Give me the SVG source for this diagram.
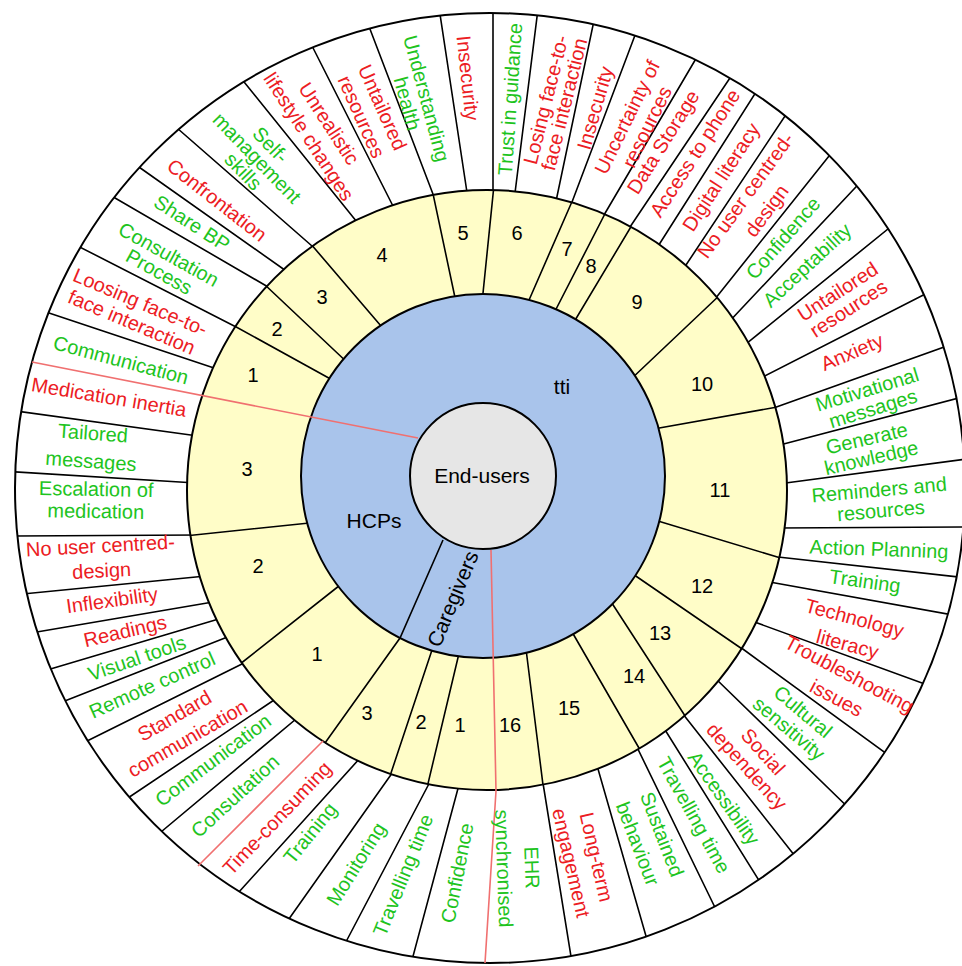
<svg xmlns="http://www.w3.org/2000/svg" width="962" height="966" viewBox="0 0 962 966">
<style>
.lbl{font-family:"Liberation Sans",Arial,sans-serif;font-size:20px;text-anchor:middle}
.r{fill:#ec1c24}.g{fill:#1ec41e}
.num{font-family:"Liberation Sans",Arial,sans-serif;font-size:20px;text-anchor:middle;fill:#000}
.ctr{font-family:"Liberation Sans",Arial,sans-serif;font-size:21px;text-anchor:middle;fill:#000}
.div{stroke:#000;stroke-width:1.6;fill:none}
.redl{stroke:#f07070;stroke-width:1.6;fill:none}
.ring{stroke:#000;stroke-width:2}
</style>
<defs>
<clipPath id="clipOuter"><circle cx="490" cy="488" r="475"/></clipPath>
<clipPath id="clipYellow"><circle cx="487" cy="490" r="300"/></clipPath>
</defs>
<rect width="962" height="966" fill="#fff"/>
<g id="outer-ring">
<circle class="ring" cx="490" cy="488" r="475" fill="#fff"/>
</g>
<g id="connectors">
<path class="div" clip-path="url(#clipOuter)" d="M220,370L37,309M242,330L70,242M275,291L103,191M289,273L129,160M320,253L169,121M361,227L236,72M396,212L307,36M436,202L365,16M468,199L438,1M493,199L493,-1M514,201L539,1M555,206L596,11M569,210L640,22M604,215L704,45M630,227L740,63M655,251L765,78M682,271L795,101M711,304L841,141M727,324L870,172M741,348L904,216M759,379L941,286M768,410L964,340M776,446L974,394M778,484L974,458M778,528L976,527M769,556L977,579M764,581L970,618M749,620L944,691M736,644L902,765M714,677L860,819M679,709L806,870M662,725L770,898M634,741L724,926M596,762L652,957M542,777L574,975M460,781L408,975M432,778L338,957M395,769L279,933M361,757L229,903M302,714L149,842M280,696L116,806M250,660L75,747M230,636L52,706M222,618L37,673M213,602L25,634M206,576L13,595M199,535L3,536M196,483L1,471M198,436L9,410"/>
</g>
<g id="yellow-ring">
<circle class="ring" cx="487" cy="490" r="300" fill="#fffdc8"/>
</g>
<g id="yellow-dividers">
<path class="div" clip-path="url(#clipYellow)" d="M336,382L229,323M351,366L263,283M387,333L310,243M457,307L432,189M482,303L494,185M526,307L574,197M552,317L611,202M571,327L638,215M629,381L722,293M648,430L783,406M648,518L784,559M627,570L748,653M606,594L689,722M568,625L643,755M525,641L544,793M461,645L426,792M436,638L388,782M349,578L235,668M319,522L184,536"/>
</g>
<g id="blue-ring">
<circle class="ring" cx="483" cy="476" r="182" fill="#a9c4eb"/>
</g>
<g id="section-boundaries">
<path class="div" d="M325,743L400,638L443,540"/>
<path class="redl" d="M32,362L418,438"/>
<path class="redl" d="M198,866L323,741"/>
<path class="redl" d="M485,963L496,791L491,550"/>
</g>
<g id="node-end-users">
<circle class="ring" cx="483" cy="476" r="73" fill="#e6e6e6"/>
<text class="ctr" x="482" y="483">End-users</text>
</g>
<g id="node-tti"><text class="ctr" x="562" y="394">tti</text></g>
<g id="node-hcps"><text class="ctr" x="374" y="528">HCPs</text></g>
<g id="node-caregivers" transform="translate(453,599) rotate(-67.5)"><text class="ctr" y="7">Caregivers</text></g>
<g id="numbers">
<text class="num" x="253" y="382">1</text>
<text class="num" x="277" y="336">2</text>
<text class="num" x="322" y="304">3</text>
<text class="num" x="382" y="262">4</text>
<text class="num" x="463" y="240">5</text>
<text class="num" x="517" y="240">6</text>
<text class="num" x="567" y="256">7</text>
<text class="num" x="591" y="273">8</text>
<text class="num" x="637" y="309">9</text>
<text class="num" x="702" y="391">10</text>
<text class="num" x="720" y="497">11</text>
<text class="num" x="702" y="593">12</text>
<text class="num" x="660" y="640">13</text>
<text class="num" x="634" y="683">14</text>
<text class="num" x="569" y="715">15</text>
<text class="num" x="510" y="732">16</text>
<text class="num" x="460" y="732">1</text>
<text class="num" x="421" y="729">2</text>
<text class="num" x="367" y="720">3</text>
<text class="num" x="317" y="661">1</text>
<text class="num" x="258" y="573">2</text>
<text class="num" x="247" y="476">3</text>
</g>
<g id="labels">
<g id="l01" transform="translate(121,360) rotate(15)"><text class="lbl g" y="7">Communication</text></g>
<g id="l02" transform="translate(109,397) rotate(9.5)"><text class="lbl r" y="7">Medication inertia</text></g>
<g id="l03" transform="translate(92,447) rotate(4)"><text class="lbl g"><tspan x="0" y="-7">Tailored</tspan><tspan x="0" y="21">messages</tspan></text></g>
<g id="l04" transform="translate(96,500) rotate(1)"><text class="lbl g"><tspan x="0" y="-4">Escalation of</tspan><tspan x="0" y="18">medication</tspan></text></g>
<g id="l05" transform="translate(101,558) rotate(-3)"><text class="lbl r"><tspan x="0" y="-5.5">No user centred-</tspan><tspan x="0" y="19.5">design</tspan></text></g>
<g id="l06" transform="translate(112,600) rotate(-8)"><text class="lbl r" y="7">Inflexibility</text></g>
<g id="l07" transform="translate(125,631) rotate(-13)"><text class="lbl r" y="7">Readings</text></g>
<g id="l08" transform="translate(137,658) rotate(-19)"><text class="lbl g" y="7">Visual tools</text></g>
<g id="l09" transform="translate(152,685) rotate(-24)"><text class="lbl g" y="7">Remote control</text></g>
<g id="l10" transform="translate(181,727) rotate(-30)"><text class="lbl r"><tspan x="0" y="-6">Standard</tspan><tspan x="0" y="20">communication</tspan></text></g>
<g id="l11" transform="translate(213,760) rotate(-37)"><text class="lbl g" y="7">Communication</text></g>
<g id="l12" transform="translate(235,796) rotate(-42.5)"><text class="lbl g" y="7">Consultation</text></g>
<g id="l13" transform="translate(277,818) rotate(-46.5)"><text class="lbl r" y="7">Time-consuming</text></g>
<g id="l14" transform="translate(310,833) rotate(-51)"><text class="lbl g" y="7">Training</text></g>
<g id="l15" transform="translate(356,864) rotate(-58)"><text class="lbl g" y="7">Monitoring</text></g>
<g id="l16" transform="translate(403,875) rotate(-68)"><text class="lbl g" y="7">Travelling time</text></g>
<g id="l17" transform="translate(457,873) rotate(-79)"><text class="lbl g" y="7">Confidence</text></g>
<g id="l18" transform="translate(518,868) rotate(88)"><text class="lbl g"><tspan x="0" y="-7">EHR</tspan><tspan x="0" y="21">synchronised</tspan></text></g>
<g id="l19" transform="translate(584,860) rotate(77)"><text class="lbl r"><tspan x="0" y="-6">Long-term</tspan><tspan x="0" y="20">engagement</tspan></text></g>
<g id="l20" transform="translate(650,839) rotate(69)"><text class="lbl g"><tspan x="0" y="-6">Sustained</tspan><tspan x="0" y="20">behaviour</tspan></text></g>
<g id="l21" transform="translate(694,815) rotate(61)"><text class="lbl g" y="7">Travelling time</text></g>
<g id="l22" transform="translate(724,798) rotate(55)"><text class="lbl g" y="7">Accessibility</text></g>
<g id="l23" transform="translate(755,759) rotate(48)"><text class="lbl r"><tspan x="0" y="-4">Social</tspan><tspan x="0" y="18">dependency</tspan></text></g>
<g id="l24" transform="translate(796,720) rotate(40)"><text class="lbl g"><tspan x="0" y="-4">Cultural</tspan><tspan x="0" y="18">sensitivity</tspan></text></g>
<g id="l25" transform="translate(843,686) rotate(28)"><text class="lbl r"><tspan x="0" y="-6.5">Troubleshooting</tspan><tspan x="0" y="20.5">issues</tspan></text></g>
<g id="l26" transform="translate(851,631) rotate(15)"><text class="lbl r"><tspan x="0" y="-6.5">Technology</tspan><tspan x="0" y="20.5">literacy</tspan></text></g>
<g id="l27" transform="translate(865,581) rotate(8)"><text class="lbl g" y="7">Training</text></g>
<g id="l28" transform="translate(879,549) rotate(2)"><text class="lbl g" y="7">Action Planning</text></g>
<g id="l29" transform="translate(880,500) rotate(-5)"><text class="lbl g"><tspan x="0" y="-3.5">Reminders and</tspan><tspan x="0" y="17.5">resources</tspan></text></g>
<g id="l30" transform="translate(869,448) rotate(-13)"><text class="lbl g"><tspan x="0" y="-3">Generate</tspan><tspan x="0" y="17">knowledge</tspan></text></g>
<g id="l31" transform="translate(870,399) rotate(-17)"><text class="lbl g"><tspan x="0" y="-3">Motivational</tspan><tspan x="0" y="17">messages</tspan></text></g>
<g id="l32" transform="translate(852,352) rotate(-23)"><text class="lbl r" y="7">Anxiety</text></g>
<g id="l33" transform="translate(843,300) rotate(-33)"><text class="lbl r"><tspan x="0" y="-3">Untailored</tspan><tspan x="0" y="17">resources</tspan></text></g>
<g id="l34" transform="translate(807,265) rotate(-43)"><text class="lbl g" y="7">Acceptability</text></g>
<g id="l35" transform="translate(783,238) rotate(-49)"><text class="lbl g" y="7">Confidence</text></g>
<g id="l36" transform="translate(756,203) rotate(-54)"><text class="lbl r"><tspan x="0" y="-6">No user centred-</tspan><tspan x="0" y="20">design</tspan></text></g>
<g id="l37" transform="translate(721,177) rotate(-57)"><text class="lbl r" y="7">Digital literacy</text></g>
<g id="l38" transform="translate(695,153) rotate(-57)"><text class="lbl r" y="7">Access to phone</text></g>
<g id="l39" transform="translate(663,142) rotate(-58)"><text class="lbl r" y="7">Data Storage</text></g>
<g id="l40" transform="translate(637,122) rotate(-64)"><text class="lbl r"><tspan x="0" y="-4">Uncertainty of</tspan><tspan x="0" y="18">resources</tspan></text></g>
<g id="l41" transform="translate(595,108) rotate(-74)"><text class="lbl r" y="7">Insecurity</text></g>
<g id="l42" transform="translate(555,102) rotate(-76)"><text class="lbl r"><tspan x="0" y="-2.5">Losing face-to-</tspan><tspan x="0" y="16.5">face interaction</tspan></text></g>
<g id="l43" transform="translate(510,99) rotate(-86)"><text class="lbl g" y="7">Trust in guidance</text></g>
<g id="l44" transform="translate(468,78) rotate(84)"><text class="lbl r" y="7">Insecurity</text></g>
<g id="l45" transform="translate(417,101) rotate(75)"><text class="lbl g"><tspan x="0" y="-3">Understanding</tspan><tspan x="0" y="17">health</tspan></text></g>
<g id="l46" transform="translate(372,112) rotate(66)"><text class="lbl r"><tspan x="0" y="-4.5">Untailored</tspan><tspan x="0" y="18.5">resources</tspan></text></g>
<g id="l47" transform="translate(319,130) rotate(57)"><text class="lbl r"><tspan x="0" y="-5">Unrealistic</tspan><tspan x="0" y="19">lifestyle changes</tspan></text></g>
<g id="l48" transform="translate(257,158) rotate(46)"><text class="lbl g"><tspan x="0" y="-12">Self-</tspan><tspan x="0" y="7">management</tspan><tspan x="0" y="26">skills</tspan></text></g>
<g id="l49" transform="translate(217,200) rotate(38)"><text class="lbl r" y="7">Confrontation</text></g>
<g id="l50" transform="translate(192,223) rotate(33)"><text class="lbl g" y="7">Share BP</text></g>
<g id="l51" transform="translate(164,263) rotate(29)"><text class="lbl g"><tspan x="0" y="-3">Consultation</tspan><tspan x="0" y="17">Process</tspan></text></g>
<g id="l52" transform="translate(136,312) rotate(23)"><text class="lbl r"><tspan x="0" y="-4">Loosing face-to-</tspan><tspan x="0" y="18">face interaction</tspan></text></g>
</g>
</svg>
